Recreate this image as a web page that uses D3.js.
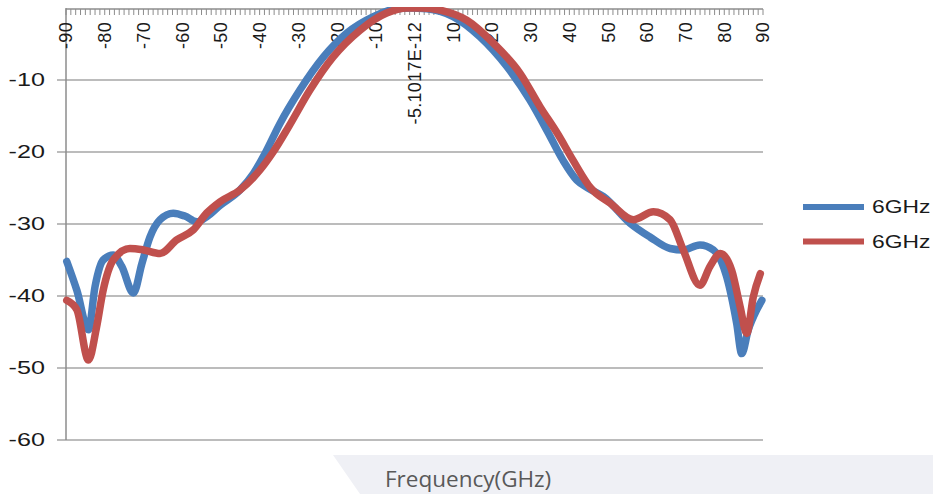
<!DOCTYPE html>
<html>
<head>
<meta charset="utf-8">
<script src="https://cdn.jsdelivr.net/npm/d3@7"></script>
<style>
    html, body { margin: 0; padding: 0; background: #fff; }
    svg { display: block; }
    .grid line { stroke: #a6a6a6; stroke-width: 1.5; }
    .axis-text { font-family: "Liberation Sans", Arial, sans-serif; fill: #1a1a1a; }
</style>
</head>
<body>
<svg id="chart" width="933" height="494"></svg>
<script>
// Chart configuration
const W = 933, H = 494;
const plot = { left: 66, right: 763, top: 8, bottom: 440 };

// Angle ticks along the top axis
const angleTicks = [-90, -80, -70, -60, -50, -40, -30, -20, -10, 0, 10, 20, 30, 40, 50, 60, 70, 80, 90];
const angleLabels = ['-90', '-80', '-70', '-60', '-50', '-40', '-30', '-20', '-10', '-5.1017E-12',
    '10', '20', '30', '40', '50', '60', '70', '80', '90'];
const minorStep = 1.25;
const gainTicks = [-10, -20, -30, -40, -50, -60];

// Series 1 (blue)
const blueAngle = [-89.8, -87.2, -84.2, -82.5, -80.4, -77.8, -75.6, -72.6, -70.4, -68.3, -65.7, -62.3,
    -59.3, -56.2, -53.7, -50.2, -45.1, -41.6, -38.6, -34.7, -29.6, -23.5, -17.5, -10.6, -4.6, -1.0,
    3.2, 10.0, 16.9, 23.8, 29.8, 34.4, 38.4, 41.9, 44.8, 48.8, 55.7, 60.8, 66.0, 69.4, 73.7, 77.2,
    80.6, 83.2, 84.5, 86.2, 88.4, 89.7];
const blueGain = [-35.2, -39.2, -44.7, -38.7, -35.0, -34.3, -35.9, -39.6, -35.5, -31.8, -29.4, -28.5,
    -28.9, -29.7, -29.0, -27.4, -25.3, -23.0, -20.2, -16.0, -11.4, -6.8, -3.5, -1.2, -0.1, 0,
    -0.1, -1.2, -4.0, -8.1, -12.8, -17.2, -21.2, -23.9, -25.0, -26.2, -29.9, -31.8, -33.4, -33.6, -32.9, -33.6,
    -37.3, -43.8, -48.0, -44.7, -41.9, -40.6];

// Series 2 (red)
const redAngle = [-89.8, -87.2, -84.2, -82.1, -80.4, -77.8, -73.5, -70.0, -65.7, -61.4, -57.1, -53.7,
    -50.2, -45.1, -39.9, -36.5, -32.4, -27.0, -21.0, -14.1, -7.2, -2.0, 2.0, 6.6, 13.5, 20.4, 27.3,
    32.4, 37.0, 41.0, 45.5, 50.5, 56.5, 61.7, 66.0, 69.4, 73.7, 76.3, 79.0, 81.9, 84.1, 85.8, 87.5, 89.3];
const redGain = [-40.6, -41.9, -48.9, -44.3, -39.2, -35.0, -33.4, -33.6, -34.1, -32.2, -30.8, -28.5,
    -26.9, -25.3, -22.5, -20.0, -16.4, -11.4, -6.8, -3.1, -0.7, 0, 0, -0.3, -1.7, -4.9, -9.1,
    -13.7, -17.5, -21.2, -25.0, -27.1, -29.4, -28.3, -29.4, -33.6, -38.5, -35.9, -34.1, -36.4, -41.5, -45.2, -40.1, -36.9];

const seriesNames = ['6GHz', '6GHz'];
const colors = ['#4a7ebb', '#c0504d'];

const svg = d3.select('#chart');

const x = d3.scaleLinear().domain([-90, 90]).range([plot.left, plot.right]);
const y = d3.scaleLinear().domain([-60, 0]).range([plot.bottom, plot.top]);

// Bottom band with axis title
svg.append('polygon')
    .attr('points', `333,455 ${W},455 ${W},${H} 360,${H}`)
    .attr('fill', '#eff0f5');

svg.append('text')
    .attr('x', 385)
    .attr('y', 487)
    .attr('font-family', '"Open Sans", sans-serif')
    .attr('font-size', 22.5)
    .attr('fill', '#595959')
    .text('Frequency(GHz)');

// Horizontal gridlines
svg.append('g')
    .attr('class', 'grid')
    .selectAll('line')
    .data(gainTicks)
    .enter()
    .append('line')
    .attr('x1', plot.left - 9)
    .attr('x2', plot.right)
    .attr('y1', d => y(d))
    .attr('y2', d => y(d));

// Left axis line
svg.append('line')
    .attr('x1', plot.left).attr('x2', plot.left)
    .attr('y1', y(0)).attr('y2', y(-60))
    .attr('stroke', '#8c8c8c').attr('stroke-width', 1.5);

// Left axis labels (wide glyphs as in the picture)
svg.append('g')
    .selectAll('g')
    .data(gainTicks)
    .enter()
    .append('g')
    .attr('transform', d => `translate(45,${y(d)}) scale(1.4,1)`)
    .append('text')
    .attr('class', 'axis-text')
    .attr('text-anchor', 'end')
    .attr('dy', '0.36em')
    .attr('font-size', 18)
    .text(d => d);

// Top axis with minor ticks
const topAxis = svg.append('g');
topAxis.append('line')
    .attr('x1', plot.left).attr('x2', plot.right)
    .attr('y1', 9).attr('y2', 9)
    .attr('stroke', '#8c8c8c').attr('stroke-width', 1.5);

topAxis.selectAll('.minor')
    .data(d3.range(-90, 90.001, minorStep))
    .enter()
    .append('line')
    .attr('x1', d => x(d)).attr('x2', d => x(d))
    .attr('y1', 9).attr('y2', 15)
    .attr('stroke', '#8c8c8c').attr('stroke-width', 1);

topAxis.selectAll('.lbl')
    .data(angleTicks)
    .enter()
    .append('text')
    .attr('class', 'axis-text')
    .attr('transform', d => `translate(${x(d)},22) rotate(-90)`)
    .attr('text-anchor', 'end')
    .attr('dy', '0.36em')
    .attr('font-size', 18)
    .attr('letter-spacing', 0.3)
    .text((d, i) => angleLabels[i]);

// Curves
svg.append('clipPath').attr('id', 'plot-clip')
    .append('rect')
    .attr('x', 0).attr('y', plot.top - 1)
    .attr('width', W).attr('height', H);

const line = d3.line()
    .x(d => x(d[0]))
    .y(d => y(d[1]))
    .curve(d3.curveMonotoneX);

const series = [d3.zip(blueAngle, blueGain), d3.zip(redAngle, redGain)];

svg.append('g')
    .attr('clip-path', 'url(#plot-clip)')
    .selectAll('path')
    .data(series)
    .enter()
    .append('path')
    .attr('d', line)
    .attr('fill', 'none')
    .attr('stroke', (d, i) => colors[i])
    .attr('stroke-width', 7.5)
    .attr('stroke-linejoin', 'round')
    .attr('stroke-linecap', 'round');

// Legend
const legend = svg.append('g')
    .selectAll('g')
    .data(seriesNames)
    .enter()
    .append('g')
    .attr('transform', (d, i) => `translate(803,${207 + i * 34.5})`);

legend.append('line')
    .attr('x1', 0).attr('x2', 61)
    .attr('stroke', (d, i) => colors[i])
    .attr('stroke-width', 6);

legend.append('g')
    .attr('transform', 'translate(69,0) scale(1.27,1)')
    .append('text')
    .attr('class', 'axis-text')
    .attr('dy', '0.36em')
    .attr('font-size', 18)
    .text(d => d);
</script>
</body>
</html>
